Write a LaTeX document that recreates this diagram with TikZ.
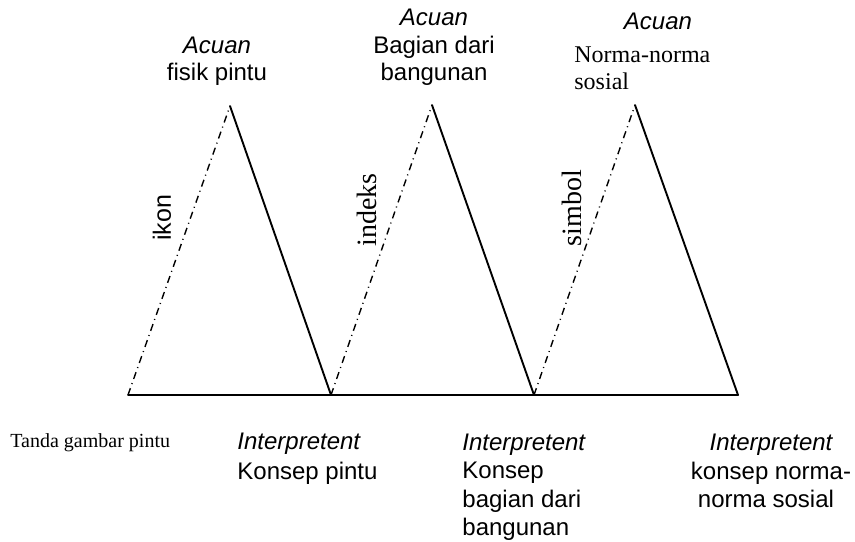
\documentclass[tikz,border=0pt]{standalone}
\usepackage{fontspec}
\setmainfont{Liberation Serif}
\setsansfont{Liberation Sans}
\newfontfamily\labelsans{Liberation Sans}
\begin{document}
\begin{tikzpicture}[x=0.5pt,y=-0.5pt,
  solidside/.style={line width=0.95pt, line cap=round},
  dashdotside/.style={line width=0.7pt, dash pattern=on 3.6pt off 2.2pt on 0.5pt off 2.2pt},
  sanstext/.style={font=\sffamily\fontsize{12}{14}\selectfont, inner sep=0pt},
  sansital/.style={font=\sffamily\itshape\fontsize{12}{14}\selectfont, inner sep=0pt},
  sanslabel/.style={font=\labelsans\fontsize{12.5}{14}\selectfont, inner sep=0pt, rotate=90},
  seriftext/.style={font=\rmfamily\fontsize{12}{14}\selectfont, inner sep=0pt},
  bigserif/.style={font=\rmfamily\fontsize{14}{16}\selectfont, inner sep=0pt, rotate=90},
  smallserif/.style={font=\rmfamily\fontsize{10}{12}\selectfont, inner sep=0pt}]
\useasboundingbox (0,0) rectangle (855,541);

% base points and apexes of the three triangles
\coordinate (b0) at (128,395);
\coordinate (b1) at (331,395);
\coordinate (b2) at (534,395);
\coordinate (b3) at (738,395);
\coordinate (a1) at (230,106);
\coordinate (a2) at (432,105);
\coordinate (a3) at (635,105);

% common base line
\draw[solidside] (b0) -- (b3);
% triangle sides
\draw[dashdotside] (b0) -- (a1);
\draw[solidside] (a1) -- (b1);
\draw[dashdotside] (b1) -- (a2);
\draw[solidside] (a2) -- (b2);
\draw[dashdotside] (b2) -- (a3);
\draw[solidside] (a3) -- (b3);

% labels along the dash-dot sides
\node[sanslabel] (ikon) at (162,218) {ikon};
\node[bigserif] (indeks) at (367,210) {indeks};
\node[bigserif] (simbol) at (572,208) {simbol};

% references at the apexes
\node[sansital, anchor=base] (acuan1) at (217,53) {Acuan};
\node[sanstext, anchor=base] (ref1) at (217,80) {fisik pintu};

\node[sansital, anchor=base] (acuan2) at (434,25) {Acuan};
\node[sanstext, anchor=base] (ref2a) at (434,53) {Bagian dari};
\node[sanstext, anchor=base] (ref2b) at (434,80) {bangunan};

\node[sansital, anchor=base] (acuan3) at (658,29) {Acuan};
\node[seriftext, anchor=base west] (ref3a) at (574,62) {Norma-norma};
\node[seriftext, anchor=base west] (ref3b) at (574,89) {sosial};

% sign and interpretants below the base
\node[smallserif, anchor=base west] (tanda) at (10,447) {Tanda gambar pintu};

\node[sansital, anchor=base west] (int1) at (237,449) {Interpretent};
\node[sanstext, anchor=base west] (int1a) at (237,479) {Konsep pintu};

\node[sansital, anchor=base west] (int2) at (462,450) {Interpretent};
\node[sanstext, anchor=base west] (int2a) at (462,478) {Konsep};
\node[sanstext, anchor=base west] (int2b) at (462,507) {bagian dari};
\node[sanstext, anchor=base west] (int2c) at (462,535) {bangunan};

\node[sansital, anchor=base] (int3) at (771,450) {Interpretent};
\node[sanstext, anchor=base] (int3a) at (771,479) {konsep norma-};
\node[sanstext, anchor=base] (int3b) at (766,507) {norma sosial};
\end{tikzpicture}
\end{document}
